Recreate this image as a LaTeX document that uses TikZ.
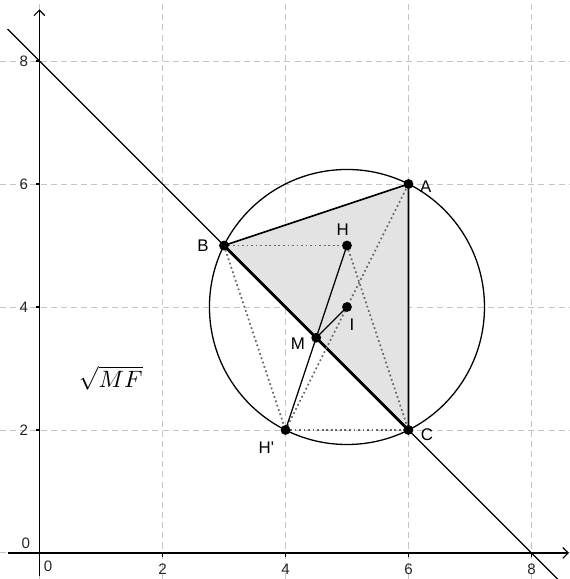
\documentclass[tikz,border=0pt]{standalone}
\usepackage{fontspec}
\setsansfont{Liberation Sans}
\usetikzlibrary{arrows.meta,positioning,calc}
\definecolor{gridcol}{HTML}{C4C4C4}
\definecolor{fillcol}{HTML}{E3E3E3}
\definecolor{dotcol}{HTML}{666666}

\begin{document}
\begin{tikzpicture}[x=1cm, y=1cm,
  pt/.style={circle, fill=black, inner sep=0pt, minimum size=0.16cm},
  lbl/.style={font=\sffamily\fontsize{7.8}{9}\selectfont, inner sep=0pt},
  ticklbl/.style={font=\sffamily\fontsize{7}{8}\selectfont, text=black!85},
  dotline/.style={dotcol, line width=0.8pt, dash pattern=on 0.8pt off 1.3pt},
  seg/.style={line width=0.6pt},
  axis/.style={line width=0.55pt, -{Straight Barb[length=2.5pt, width=5pt]}}]
\useasboundingbox (-0.642,-0.423) rectangle (8.626,8.992);

% grid and axes
\draw[gridcol, line width=0.45pt, dash pattern=on 2.8pt off 1.9pt, step=2] (-0.642,-0.423) grid (8.626,8.992);
\coordinate (xs) at (-0.52,0);
\coordinate (xe) at (8.61,0);
\coordinate (ys) at (0,-0.37);
\coordinate (ye) at (0,8.84);
\draw[axis] (xs) -- (xe);
\draw[axis] (ys) -- (ye);
\foreach \v in {2,4,6,8}{
  \draw[line width=0.5pt] (\v,0) -- (\v,-0.06) node[ticklbl, below] (xl\v) {\v};
  \draw[line width=0.5pt] (0,\v) -- (-0.06,\v) node[ticklbl, left] (yl\v) {\v};
}
\node[ticklbl] (xl0) at (0.14,-0.22) {0};
\node[ticklbl] (yl0) at (-0.22,0.16) {0};

% points
\coordinate (A) at (6,6);
\coordinate (B) at (3,5);
\coordinate (C) at (6,2);
\coordinate (H) at (5,5);
\coordinate (I) at (5,4);
\coordinate (M) at (4.5,3.5);
\coordinate (Hp) at (4,2);
\coordinate (Ltop) at (-0.52,8.52);
\coordinate (Lbot) at (8.45,-0.45);

% triangle, line and circle
\fill[fillcol] (A) -- (B) -- (C) -- cycle;
\draw[seg] (Ltop) -- (Lbot);
\draw[line width=0.75pt] (B) -- (A) -- (C);
\draw[line width=1.3pt] (B) -- (C);
\draw[seg] (I) circle ({sqrt(5)});

% dotted lines
\draw[dotline] (B) -- (H);
\draw[dotline] (Hp) -- (C);
\draw[dotline] (B) -- (Hp);
\draw[dotline] (Hp) -- (A);
\draw[dotline] (H) -- (C);

% segments from M
\draw[seg] (M) -- (H);
\draw[seg] (M) -- (I);
\draw[seg] (M) -- (Hp);

\foreach \p in {A,B,C,H,I,M,Hp}{
  \node[pt] (d\p) at (\p) {};
}
\node[lbl] (lA) at ($(A)+(0.28,-0.04)$) {A};
\node[lbl] (lB) at ($(B)+(-0.34,0)$) {B};
\node[lbl] (lC) at ($(C)+(0.30,-0.08)$) {C};
\node[lbl] (lH) at ($(H)+(-0.07,0.26)$) {H};
\node[lbl] (lI) at ($(I)+(0.08,-0.29)$) {I};
\node[lbl] (lM) at ($(M)+(-0.30,-0.10)$) {M};
\node[lbl] (lHp) at ($(Hp)+(-0.31,-0.28)$) {H\textquotesingle};

\node[font=\fontsize{11}{13}\selectfont] (expr) at (1.16,2.84) {$\sqrt{MF}$};
\end{tikzpicture}
\end{document}
